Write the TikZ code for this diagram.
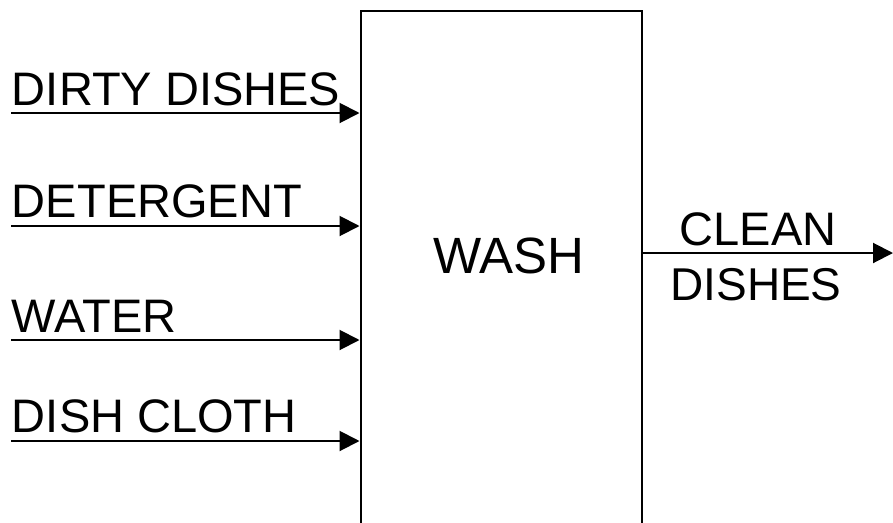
\documentclass[tikz,border=0pt]{standalone}
\usepackage{fontspec}
\setmainfont{Liberation Sans}
\usetikzlibrary{arrows.meta,positioning}

\begin{document}
\begin{tikzpicture}[
    x=1pt,
    y=-1pt,
    font=\fontsize{47}{54}\selectfont,
    block/.style={
        rectangle,
        draw,
        line width=2pt,
        minimum width=281.5pt,
        minimum height=600pt,
        anchor=north
    },
    flowtext/.style={
        anchor=base west,
        inner sep=0pt,
        yshift=8pt
    },
    line/.style={
        draw,
        line width=2pt,
        -{Triangle[length=20pt,width=20pt]}
    }
]

% Frame
\useasboundingbox (0,0) rectangle (893,522);
\clip (0,0) rectangle (893,522);

% Nodes
\node [block] (wash) at (501.25,9.5) {};
\node [anchor=base, font=\fontsize{51}{60}\selectfont] (washtext) at (509,273) {WASH};

\coordinate (dirty) at (11,113);
\coordinate (deterg) at (11,226);
\coordinate (water) at (11,340);
\coordinate (cloth) at (11,441);
\coordinate (clean) at (893,253);

% Edges
\path [line] (dirty) -- (dirty -| wash.west) node [pos=0, flowtext] (dirtytext) {DIRTY DISHES};
\path [line] (deterg) -- (deterg -| wash.west) node [pos=0, flowtext, yshift=1pt] (detergtext) {DETERGENT};
\path [line] (water) -- (water -| wash.west) node [pos=0, flowtext] (watertext) {WATER};
\path [line] (cloth) -- (cloth -| wash.west) node [pos=0, flowtext, yshift=1pt] (clothtext) {DISH CLOTH};
\path [line] (wash.east |- clean) -- (clean);

\node [anchor=base] (cleantext) at (758,245) {CLEAN};
\node [anchor=base, font=\fontsize{46}{53}\selectfont] (dishestext) at (756,300) {DISHES};

\end{tikzpicture}
\end{document}
